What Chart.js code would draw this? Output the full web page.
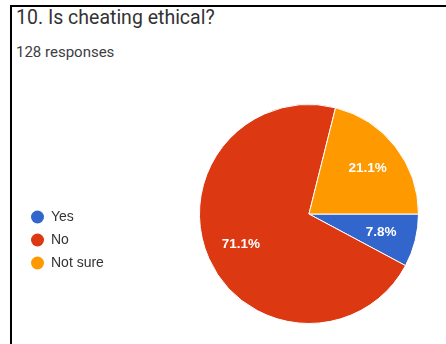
<!DOCTYPE html>
<html>
<head>
<meta charset="utf-8">
<script src="https://cdn.jsdelivr.net/npm/chart.js@4/dist/chart.umd.min.js"></script>
<style>
    html, body {
        margin: 0;
        padding: 0;
        background: #fff;
    }
    .frame {
        position: relative;
        width: 446px;
        height: 344px;
        overflow: hidden;
    }
    .border {
        position: absolute;
        left: 10px;
        top: 5px;
        right: 0;
        bottom: 0;
        border-top: 2px solid #000;
        border-left: 2px solid #000;
    }
    .question {
        position: absolute;
        left: 16px;
        top: 5.5px;
        font-family: Roboto, sans-serif;
        font-size: 19.5px;
        line-height: 24px;
        color: #333;
    }
    .responses {
        position: absolute;
        left: 16px;
        top: 42.5px;
        font-family: Roboto, sans-serif;
        font-size: 15px;
        line-height: 18px;
        color: #3c4043;
    }
    canvas {
        position: absolute;
        left: 0;
        top: 0;
    }
</style>
</head>
<body>
<div class="frame">
    <div class="border"></div>
    <div class="question">10. Is cheating ethical?</div>
    <div class="responses">128 responses</div>
    <canvas id="pieChart" width="504" height="344"></canvas>
</div>
<script>
const answers = ['Yes', 'No', 'Not sure'];
const responseCounts = [10, 91, 27];
const sliceColors = ['#3366cc', '#dc3912', '#ff9900'];

// Percent labels drawn inside each slice, like Google Forms does
const sliceLabels = {
    id: 'sliceLabels',
    afterDatasetsDraw(chart) {
        const ctx = chart.ctx;
        const meta = chart.getDatasetMeta(0);
        const total = responseCounts.reduce((a, b) => a + b, 0);

        ctx.save();
        ctx.fillStyle = '#fff';
        ctx.font = 'bold 13.5px "Liberation Sans", Arial, sans-serif';
        ctx.textAlign = 'center';
        ctx.textBaseline = 'middle';
        meta.data.forEach((arc, i) => {
            const { x, y, startAngle, endAngle, outerRadius } = arc.getProps(['x', 'y', 'startAngle', 'endAngle', 'outerRadius'], true);
            const mid = (startAngle + endAngle) / 2;
            const r = outerRadius * 0.68;
            const pct = (responseCounts[i] / total * 100).toFixed(1) + '%';
            ctx.fillText(pct, x + Math.cos(mid) * r, y + Math.sin(mid) * r);
        });
        ctx.restore();
    }
};

const ctx = document.getElementById('pieChart');

new Chart(ctx, {
    type: 'pie',
    data: {
        labels: answers,
        datasets: [{
            data: responseCounts,
            backgroundColor: sliceColors,
            borderColor: '#fff',
            borderWidth: 1,
            hoverOffset: 0
        }]
    },
    options: {
        responsive: false,
        animation: false,
        rotation: 90,
        layout: {
            padding: { left: 22, top: 104, bottom: 20, right: 0 }
        },
        plugins: {
            legend: {
                display: true,
                position: 'left',
                // empty title only pushes the items down a bit
                title: {
                    display: true,
                    text: '',
                    font: { size: 12 },
                    padding: { top: 37.6, bottom: 0 }
                },
                labels: {
                    usePointStyle: true,
                    pointStyle: 'circle',
                    pointStyleWidth: 13,
                    boxHeight: 9.2,
                    padding: 9,
                    color: '#333',
                    font: { family: '"Liberation Sans", Arial, sans-serif', size: 14 },
                    generateLabels(chart) {
                        const items = Chart.controllers.pie.overrides.plugins.legend.labels.generateLabels(chart);
                        items.forEach(item => { item.lineWidth = 0; });
                        return items;
                    }
                }
            },
            tooltip: { enabled: false }
        }
    },
    plugins: [sliceLabels]
});
</script>
</body>
</html>
